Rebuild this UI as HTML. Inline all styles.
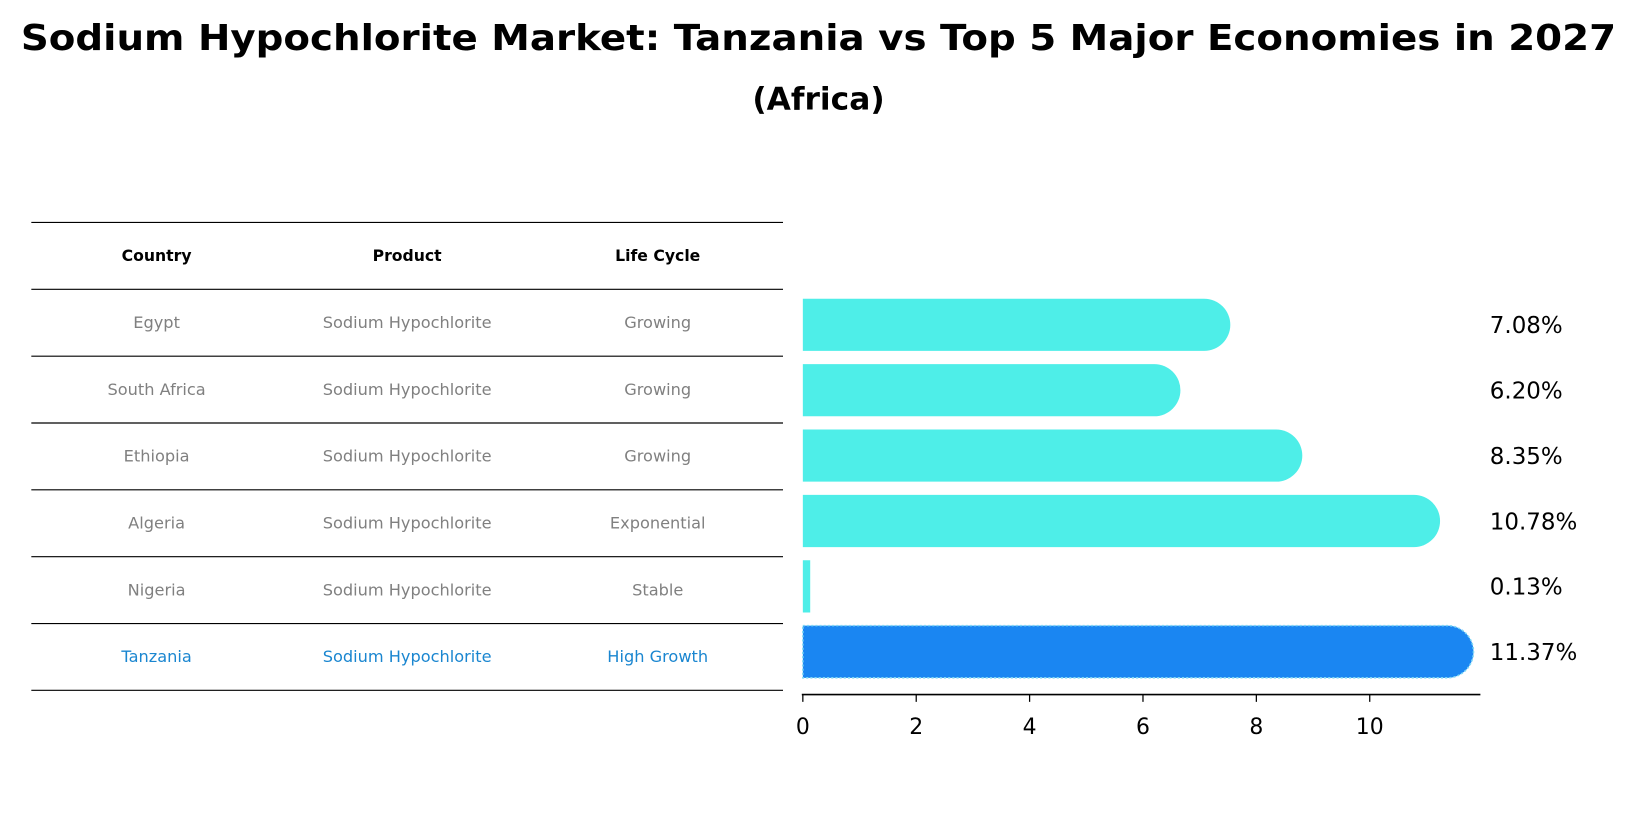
<!DOCTYPE html>
<html><head><meta charset="utf-8"><style>
body{margin:0;background:#fff;font-family:"Liberation Sans","DejaVu Sans",sans-serif;}
svg text{font-family:"DejaVu Sans","Liberation Sans",sans-serif;}
</style></head><body>
<svg id="c" width="1637" height="823" viewBox="0 0 1568 788" preserveAspectRatio="none" xmlns="http://www.w3.org/2000/svg">
<text x="784" y="48" text-anchor="middle" font-size="34" font-weight="bold" textLength="1528" lengthAdjust="spacingAndGlyphs">Sodium Hypochlorite Market: Tanzania vs Top 5 Major Economies in 2027</text>
<text x="784" y="105" text-anchor="middle" font-size="30" font-weight="bold">(Africa)</text>
<g id="tbl"></g>
<g id="bars"></g>
</svg>
<script>
const countries=["Egypt","South Africa","Ethiopia","Algeria","Nigeria","Tanzania"];
const products=["Sodium Hypochlorite","Sodium Hypochlorite","Sodium Hypochlorite","Sodium Hypochlorite","Sodium Hypochlorite","Sodium Hypochlorite"];
const lifecycles=["Growing","Growing","Growing","Exponential","Stable","High Growth"];
const values=[7.08,6.20,8.35,10.78,0.13,11.37];
const ticks=[0,2,4,6,8,10];
const NS="http://www.w3.org/2000/svg";
function el(t,a,p,txt){const e=document.createElementNS(NS,t);for(const k in a)e.setAttribute(k,a[k]);if(txt!==undefined)e.textContent=txt;p.appendChild(e);return e;}
const tbl=document.getElementById('tbl'),bars=document.getElementById('bars');
const x=v=>769+v*54.3;
const colX=[150,390,630];
[["Country","header-country"],["Product","header-product"],["Life Cycle","header-life-cycle"]].forEach((h,j)=>{
 const t=el('text',{x:colX[j],y:250,'text-anchor':'middle','font-size':15,'font-weight':'bold'},tbl,h[0]);
 
 
});
for(let k=0;k<=7;k++){
 const ly=k===0?213:277+(k-1)*64;
 const l=el('line',{x1:30,x2:750,y1:ly,y2:ly,stroke:'#000','stroke-width':1.1},tbl);
 
 
}
countries.forEach((c,i)=>{
 const col=i===5?'#1a86d0':'#808080';
 const y=314+i*64;
 [c,products[i],lifecycles[i]].forEach((s,j)=>{
  const t=el('text',{x:colX[j],y:y,'text-anchor':'middle','font-size':15.5,fill:col},tbl,s);
  
  
 });
});
values.forEach((v,i)=>{
 const cy=311+i*62.6, h=50, x0=x(0), xe=x(v);
 const r=(xe-x0)>50?25:0;
 const d=`M${x0},${cy-h/2} H${xe} A${r},${r} 0 0 1 ${xe+r},${cy-h/2+r} V${cy+h/2-r} A${r},${r} 0 0 1 ${xe},${cy+h/2} H${x0} Z`;
 const p=el('path',{d:d,fill:i===5?'#1a86f2':'#4eeee8'},bars);
 if(i===5){p.setAttribute('stroke','#7fd8f5');p.setAttribute('stroke-dasharray','2,2');p.setAttribute('stroke-width','1.5');}
 
 
 const t=el('text',{x:1427,y:cy+8,'font-size':22},bars,v.toFixed(2)+'%');
 
 
});
const ax=el('line',{x1:768,x2:1418,y1:665,y2:665,stroke:'#000','stroke-width':1.5},bars);


ticks.forEach(tv=>{
 const tk=el('line',{x1:x(tv),x2:x(tv),y1:665,y2:672,stroke:'#000','stroke-width':1.2},bars);
 
 
 const t=el('text',{x:x(tv),y:703,'text-anchor':'middle','font-size':21},bars,String(tv));
 
 
});
</script>
</body></html>
